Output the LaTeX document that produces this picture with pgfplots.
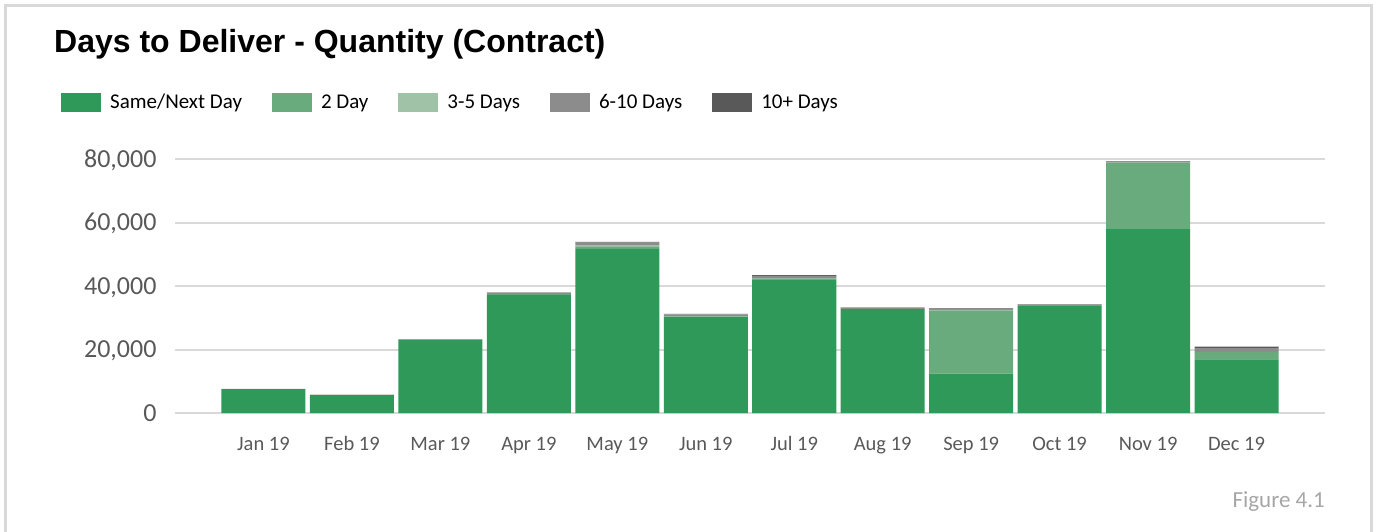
\documentclass[border=0pt]{standalone}
\usepackage{pgfplots}
\pgfplotsset{compat=1.18}
\usepackage{fontspec}
\setmainfont{Carlito}
\newfontfamily\titlefont{Liberation Sans}
\definecolor{c1}{HTML}{2E9959}
\definecolor{c2}{HTML}{6AAB7E}
\definecolor{c3}{HTML}{A0C2A6}
\definecolor{c4}{HTML}{8C8C8C}
\definecolor{c5}{HTML}{595959}
\definecolor{gridc}{HTML}{D9D9D9}
\definecolor{txt}{HTML}{595959}
\pgfplotstableread{
x s1 s2 s3 s4 s5
0 7500 50 0 50 0
1 5600 50 0 100 0
2 23000 100 0 200 0
3 37200 300 0 500 0
4 51700 800 200 1000 200
5 30200 200 0 700 100
6 42100 300 0 800 200
7 32700 100 0 400 100
8 12400 19900 200 500 0
9 33900 100 0 200 100
10 57900 21000 0 300 100
11 16900 2300 0 1200 500
}\datatable
\begin{document}
\begin{tikzpicture}[x=1pt,y=1pt]
\useasboundingbox (0,0) rectangle (1376,531);
\draw[gridc, line width=3pt] (5.5,-5) -- (5.5,525.5) -- (1371.5,525.5) -- (1371.5,-5);
\node[anchor=base west, inner sep=0pt, font=\titlefont\bfseries\fontsize{32}{38}\selectfont] at (54,531-53) {Days to Deliver - Quantity (Contract)};
\node[anchor=base east, inner sep=0pt, text=gray!70, font=\fontsize{23}{27}\selectfont] at (1325,531-507) {Figure 4.1};
\begin{axis}[
  at={(175pt,118pt)}, anchor=south west,
  scale only axis, width=1150pt, height=254pt,
  ybar stacked, bar width=0.95,
  xmin=-1, xmax=12, ymin=0, ymax=80000,
  xtick={0,...,11},
  xticklabels={Jan 19,Feb 19,Mar 19,Apr 19,May 19,Jun 19,Jul 19,Aug 19,Sep 19,Oct 19,Nov 19,Dec 19},
  ytick={0,20000,40000,60000,80000},
  /pgf/number format/fixed,
  /pgf/number format/1000 sep={,},
  /pgf/number format/assume math mode=true,
  typeset ticklabels with strut,
  yticklabel style={font=\fontsize{26}{30}\selectfont, text=txt, xshift=-15pt, yshift=-2pt},
  xticklabel style={font=\fontsize{20.5}{24}\selectfont, text=txt, yshift=-17pt},
  scaled y ticks=false,
  axis line style={draw=none},
  tick style={draw=none},
  ymajorgrids, grid style={gridc, line width=2pt},
  clip=false,
  legend columns=5,
  legend cell align=left,
  legend style={at={(-0.1017,1.272)}, anchor=north west, draw=none, fill=none,
    font=\fontsize{21}{25}\selectfont, column sep=0pt,
    /tikz/every even column/.append style={column sep=28pt}},
  legend image code/.code={\fill[#1] (0pt,-9.5pt) rectangle (40pt,9.5pt); \path (47pt,0pt);},
]
\addplot[fill=c1, draw=none] table[x=x,y=s1]{\datatable};
\addplot[fill=c2, draw=none] table[x=x,y=s2]{\datatable};
\addplot[fill=c3, draw=none] table[x=x,y=s3]{\datatable};
\addplot[fill=c4, draw=none] table[x=x,y=s4]{\datatable};
\addplot[fill=c5, draw=none] table[x=x,y=s5]{\datatable};
\legend{Same/Next Day,2 Day,3-5 Days,6-10 Days,10+ Days}
\draw[gridc, line width=2pt] (axis cs:-1,0) -- (axis cs:12,0);
\end{axis}
\end{tikzpicture}
\end{document}
